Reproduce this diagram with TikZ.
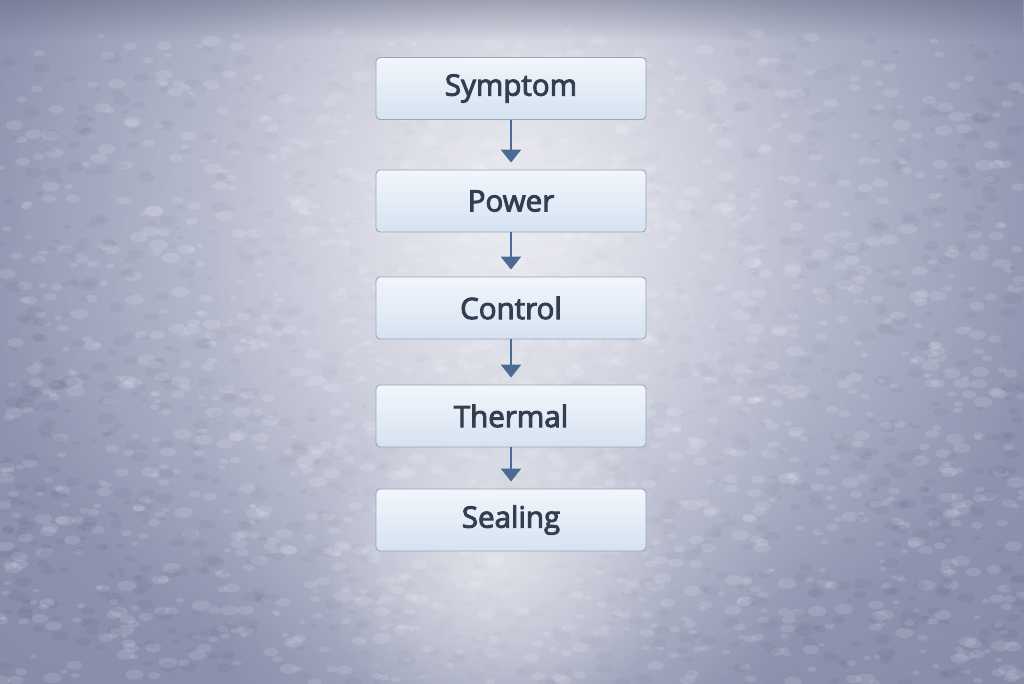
\documentclass[tikz,border=0pt]{standalone}
\usepackage{fontspec}
\setmainfont{Open Sans}[FakeBold=3.2]
\usetikzlibrary{arrows.meta,positioning,fadings}
\tikzfading[name=glow, inner color=transparent!0, outer color=transparent!100]
\definecolor{bgdark}{HTML}{767B99}
\definecolor{bgmid}{HTML}{A3A8C2}
\definecolor{boxtop}{HTML}{F2F6FC}
\definecolor{boxbot}{HTML}{D6E2F0}
\definecolor{boxline}{HTML}{97A5BF}
\definecolor{txt}{HTML}{333F50}
\definecolor{arr}{HTML}{4B6B94}
\definecolor{speck}{HTML}{555A78}
\tikzset{
  stepbox/.style={draw=boxline, line width=0.9pt, rounded corners=4pt,
    top color=boxtop, bottom color=boxbot, minimum width=270pt,
    minimum height=62pt, inner sep=0pt, text=txt, font=\fontsize{29.5}{34}\selectfont},
  flow/.style={draw=arr, line width=2.6pt, -{Triangle[width=20pt,length=13pt]},
    shorten >=7pt}
}
\begin{document}
\begin{tikzpicture}[x=1pt,y=-1pt]
\useasboundingbox (0,0) rectangle (1024,683);
\begin{scope}
\clip (0,0) rectangle (1024,683);
\fill[bgdark] (0,0) rectangle (1024,683);
\shade[inner color=bgmid, outer color=bgdark] (512,280) ellipse [x radius=1150, y radius=850];
\pgfmathsetseed{11}
\foreach \i in {1,...,1400}{
  \pgfmathsetmacro{\xx}{1024*rnd}
  \pgfmathsetmacro{\yy}{30+653*rnd^0.8}
  \pgfmathsetmacro{\rr}{2+4*rnd}
  \fill[white, opacity=0.12] (\xx,\yy) ellipse [x radius=\rr*1.6, y radius=\rr*0.9];
}
\foreach \i in {1,...,1200}{
  \pgfmathsetmacro{\xx}{1024*rnd}
  \pgfmathsetmacro{\yy}{30+653*rnd^0.8}
  \pgfmathsetmacro{\rr}{2+4*rnd}
  \fill[speck, opacity=0.10] (\xx,\yy) ellipse [x radius=\rr*1.6, y radius=\rr*0.9];
}
\fill[white, opacity=0.7, path fading=glow] (512,200) ellipse [x radius=560, y radius=520];
\fill[white, opacity=0.35, path fading=glow] (505,320) ellipse [x radius=300, y radius=900];
\fill[white, opacity=0.5, path fading=glow] (495,565) ellipse [x radius=180, y radius=160];
\fill[bgdark!85!black, opacity=0.45, path fading=south] (0,0) rectangle (1024,40);
\end{scope}
\node[stepbox] (symptom) at (511,88.5) {Symptom};
\node[stepbox] (power) at (511,201) {Power};
\node[stepbox] (control) at (511,308) {Control};
\node[stepbox] (thermal) at (511,416) {Thermal};
\node[stepbox] (sealing) at (511,520) {Sealing};
\draw[flow] (symptom) -- (power);
\draw[flow] (power) -- (control);
\draw[flow] (control) -- (thermal);
\draw[flow] (thermal) -- (sealing);
\end{tikzpicture}
\end{document}
